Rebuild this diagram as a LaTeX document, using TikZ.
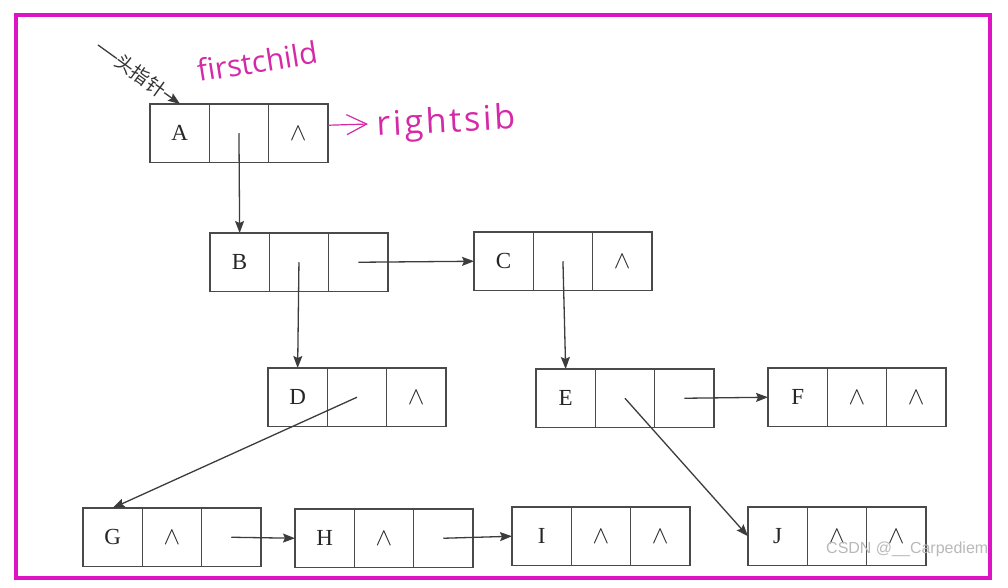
\documentclass[tikz,border=0pt]{standalone}
\usepackage{fontspec}
\setmainfont{Liberation Serif}
\newfontfamily\cjkfont{Noto Sans CJK SC}
\newfontfamily\handfont{Open Sans}
\newfontfamily\handfontwide[LetterSpace=8]{Open Sans}
\newfontfamily\wmfont{Liberation Sans}
\usetikzlibrary{arrows.meta}
\definecolor{boxline}{HTML}{4A4A4A}
\definecolor{ptrcol}{HTML}{3C3C3C}
\definecolor{bordercol}{HTML}{DC14C4}
\definecolor{handcol}{HTML}{D42AA8}
\newcommand{\nil}{{\fontsize{28}{28}\selectfont$\wedge$}}
\newcommand{\recnode}[6]{%
  \node[cell] (#1-1) at (#2,#3) {#4};
  \node[cell] (#1-2) at (#1-1.north east) {#5};
  \node[cell] (#1-3) at (#1-2.north east) {#6};}
\begin{document}
\begin{tikzpicture}[x=1pt,y=-1pt,
  cell/.style={draw=boxline, line width=1.4pt, minimum width=59.3pt, minimum height=58.5pt,
    inner sep=0pt, outer sep=0pt, anchor=north west, text=black!85,
    font=\fontsize{23}{23}\selectfont},
  ptr/.style={draw=ptrcol, line width=1.3pt, -{Stealth[length=12pt,width=9pt,inset=2pt]}},
  hand/.style={text=handcol, font=\handfont\fontsize{30}{30}\selectfont, inner sep=0pt},
  handline/.style={draw=handcol, line width=1.2pt, -{Straight Barb[length=20pt,width=20pt]}},
  wm/.style={text=gray!55, font=\wmfont\fontsize{16}{16}\selectfont, inner sep=0pt}
]
\fill[white] (0,0) rectangle (1008,588);
\useasboundingbox (0,0) rectangle (1008,588);
\draw[draw=bordercol, line width=4.5pt] (16,15) rectangle (990,578);

% records
\recnode{A}{150}{104}{A}{}{\nil}
\recnode{B}{210}{233}{B}{}{}
\recnode{C}{474}{232}{C}{}{\nil}
\recnode{D}{268}{368}{D}{}{\nil}
\recnode{E}{536}{369}{E}{}{}
\recnode{F}{768}{368}{F}{\nil}{\nil}
\recnode{G}{83}{508}{G}{\nil}{}
\recnode{H}{295}{509}{H}{\nil}{}
\recnode{I}{512}{507}{I}{\nil}{\nil}
\recnode{J}{748}{507}{J}{\nil}{\nil}

% pointers
\draw[ptr] (A-2.center) -- (B-1.north);
\draw[ptr] (B-2.center) -- (D-1.north);
\draw[ptr] (B-3.center) -- (C-1.west);
\draw[ptr] (C-2.center) -- (E-1.north);
\draw[ptr] (D-2.center) -- (G-1.north);
\draw[ptr] (E-2.center) -- (J-1.west);
\draw[ptr] (E-3.center) -- (F-1.west);
\draw[ptr] (G-3.center) -- (H-1.west);
\draw[ptr] (H-3.center) -- (I-1.west);

% head pointer
\coordinate (hp) at (98,45);
\draw[ptr] (hp) -- node[pos=0.52, sloped, fill=white, inner sep=0.5pt,
  font=\cjkfont\fontsize{19}{19}\selectfont, text=black!80] (hptext) {头指针} ([xshift=30pt]A-1.north west);

% handwritten annotations
\node[hand, rotate=9, anchor=base west] (fc) at (199,82) {firstchild};
\coordinate (rsend) at (368,124);
\draw[handline] ([yshift=8pt]A-3.east) -- (rsend);
\node[hand, rotate=3, anchor=base west, font=\handfontwide\fontsize{34}{34}\selectfont] (rs) at (377,136) {rightsib};

% watermark
\node[wm, anchor=base west] (wmk) at (826,553) {CSDN @\_\_Carpediem};
\end{tikzpicture}
\end{document}
